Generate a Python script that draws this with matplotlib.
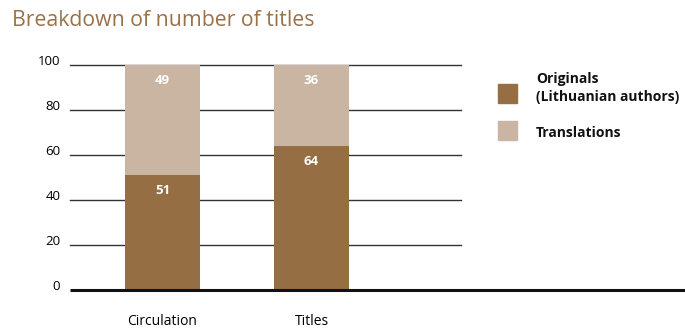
import matplotlib
matplotlib.use("Agg")
import matplotlib.pyplot as plt
from matplotlib.patches import Rectangle

categories = ["Circulation", "Titles"]
originals = [51, 64]
translations = [49, 36]
yticks = [0, 20, 40, 60, 80, 100]
series_names = ["Originals\n(Lithuanian authors)", "Translations"]
title = "Breakdown of number of titles"

c_orig = "#966e43"
c_trans = "#c9b5a1"
c_title = "#9a7148"

plt.rcParams['font.family'] = ['Open Sans', 'DejaVu Sans']

W, H = 685, 328
fig = plt.figure(figsize=(W / 100, H / 100), dpi=100)
ax = fig.add_axes([70 / W, 38 / H, (W - 70) / W, 225 / H])

x = list(range(len(categories)))
bw = 75 / 149
ax.bar(x, originals, width=bw, color=c_orig, zorder=3)
ax.bar(x, translations, width=bw, bottom=originals, color=c_trans, zorder=3)

xl, xr = -92.5 / 149, 1 + 373.5 / 149
ax.set_xlim(xl, xr)
ax.set_ylim(0, 100)

grid_end = 1 + 149.5 / 149
for t in yticks[1:]:
    ax.plot([xl, grid_end], [t, t], color="#333333", lw=1, zorder=2, clip_on=False)
ax.plot([xl, xr], [0, 0], color="#111111", lw=2.2, zorder=4, clip_on=False, solid_capstyle="butt")

for xi, o, tr in zip(x, originals, translations):
    ax.text(xi, o - 7, str(o), color="white", fontsize=9.5, fontweight="bold",
            ha="center", va="center", zorder=5)
    ax.text(xi, 100 - 7, str(tr), color="white", fontsize=9.5, fontweight="bold",
            ha="center", va="center", zorder=5)

for s in ax.spines.values():
    s.set_visible(False)
ax.set_yticks(yticks)
ax.set_yticklabels([str(t) for t in yticks], fontsize=9.5)
ax.tick_params(axis="y", length=0, pad=7)
for lbl in ax.get_yticklabels():
    lbl.set_verticalalignment("baseline")
ax.set_xticks(x)
ax.set_xticklabels(categories, fontsize=10)
ax.tick_params(axis="x", length=0, pad=17.5)

fig.text(12 / W, 1 - 20 / H, title, color=c_title, fontsize=15.3, ha="left", va="center")

# legend
for (ytop, col) in [(84, c_orig), (121, c_trans)]:
    fig.patches.append(Rectangle((498 / W, 1 - (ytop + 19) / H), 19 / W, 19 / H,
                                 transform=fig.transFigure, color=col))
fig.text(536 / W, 1 - 88 / H, series_names[0], fontsize=10, fontweight="bold",
         ha="left", va="center", linespacing=1.45, color="#111111")
fig.text(536 / W, 1 - 133 / H, series_names[1], fontsize=10, fontweight="bold",
         ha="left", va="center", color="#111111")

fig.savefig("out.png", dpi=100)
